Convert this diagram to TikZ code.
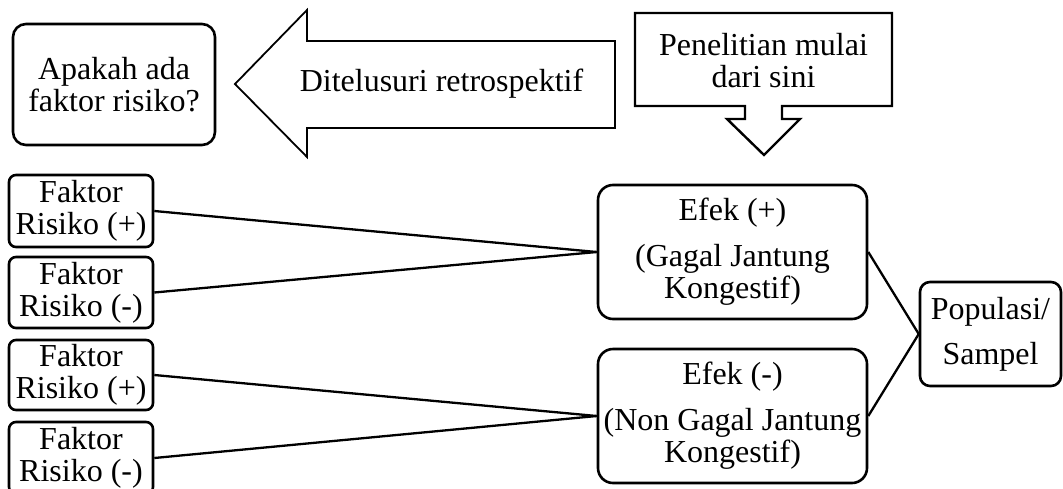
\documentclass[tikz,border=0pt]{standalone}
\usepackage{fontspec}
\setmainfont{Liberation Serif}
\begin{document}
\begin{tikzpicture}[x=1pt,y=-1pt,
  every node/.style={font=\fontsize{32}{32}\selectfont, align=center, inner sep=0pt},
  rbox/.style={draw, line width=2.6pt, rounded corners=#1},
  rbox/.default=8pt,
  conn/.style={line width=2.3pt},
  bigarrow/.style={draw, line width=1.8pt, line join=miter},
  callout/.style={draw, line width=2.4pt, line join=miter}]
\useasboundingbox (0,0) rectangle (1063,488);
% left big arrow
\draw[bigarrow] (235,84) -- (307,10) -- (307,41) -- (615,41) -- (615,128) -- (307,128) -- (307,157) -- cycle;
\node (ditel) at (441.5,84) {Ditelusuri retrospektif};
% callout with down arrow
\draw[callout] (635,13) -- (892,13) -- (892,106) -- (782,106) -- (782,119) -- (800,119) -- (764,155) -- (727,119) -- (745,119) -- (745,106) -- (635,106) -- cycle;
\node (mulai) at (763.5,61) {Penelitian mulai\\dari sini};
% question box
\node[rbox=13pt, minimum width=202pt, minimum height=121pt] (tanya) at (114,84.5) {Apakah ada\\faktor risiko?};
% factor boxes
\node[rbox=7pt, minimum width=144pt, minimum height=72pt] (f1) at (81,211) {Faktor\\Risiko (+)};
\node[rbox=7pt, minimum width=144pt, minimum height=71pt] (f2) at (81,292.5) {Faktor\\Risiko (-)};
\node[rbox=7pt, minimum width=144pt, minimum height=70pt] (f3) at (81,375) {Faktor\\Risiko (+)};
\node[rbox=7pt, minimum width=144pt, minimum height=72pt] (f4) at (81,458) {Faktor\\Risiko (-)};
% effect boxes
\node[rbox=15pt, minimum width=269pt, minimum height=134pt] (e1) at (732.5,252) {Efek (+)\\[14pt](Gagal Jantung\\Kongestif)};
\node[rbox=15pt, minimum width=269pt, minimum height=134pt] (e2) at (732.5,416) {Efek (-)\\[14pt](Non Gagal Jantung\\Kongestif)};
% population
\node[rbox=10pt, minimum width=141pt, minimum height=104pt] (pop) at (990.5,334) {Populasi/\\[13pt]Sampel};
% connectors
\draw[conn] (f1.east) -- (e1.west);
\draw[conn] (f2.east) -- (e1.west);
\draw[conn] (f3.east) -- (e2.west);
\draw[conn] (f4.east) -- (e2.west);
\draw[conn] (e1.east) -- (pop.west);
\draw[conn] (e2.east) -- (pop.west);
\end{tikzpicture}
\end{document}
